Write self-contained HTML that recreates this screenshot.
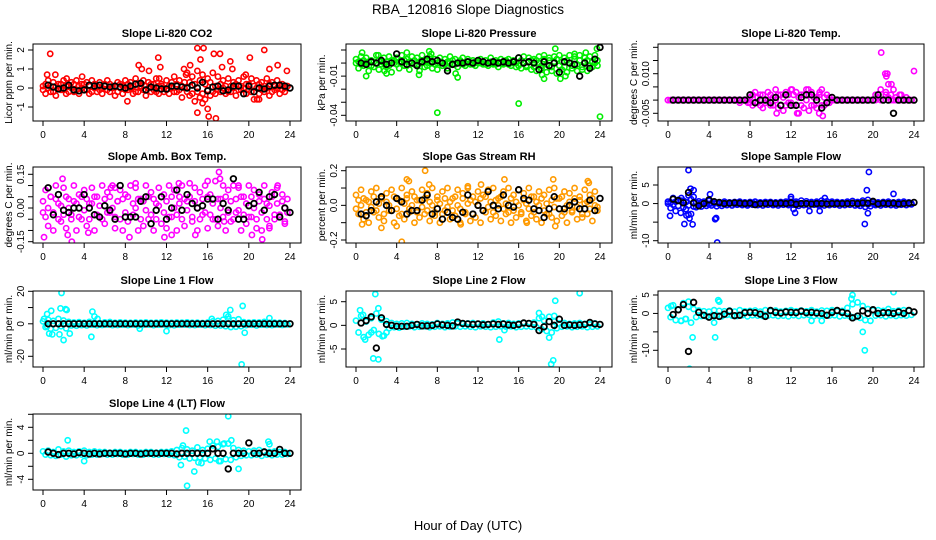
<!DOCTYPE html>
<html><head><meta charset="utf-8"><style>
html,body{margin:0;padding:0;background:#fff;}
svg{display:block;font-family:"Liberation Sans",sans-serif;}
</style></head><body>
<svg id="chart" width="936" height="540" viewBox="0 0 936 540">
<text x="468" y="14" text-anchor="middle" font-size="13.5">RBA_120816  Slope Diagnostics</text>
<text x="468" y="530" text-anchor="middle" font-size="13">Hour of Day (UTC)</text>
</svg>
<script>
const times=[0,0.25,0.5,0.75,1,1.25,1.5,1.75,2,2.25,2.5,2.75,3,3.25,3.5,3.75,4,4.25,4.5,4.75,5,5.25,5.5,5.75,6,6.25,6.5,6.75,7,7.25,7.5,7.75,8,8.25,8.5,8.75,9,9.25,9.5,9.75,10,10.25,10.5,10.75,11,11.25,11.5,11.75,12,12.25,12.5,12.75,13,13.25,13.5,13.75,14,14.25,14.5,14.75,15,15.25,15.5,15.75,16,16.25,16.5,16.75,17,17.25,17.5,17.75,18,18.25,18.5,18.75,19,19.25,19.5,19.75,20,20.25,20.5,20.75,21,21.25,21.5,21.75,22,22.25,22.5,22.75,23,23.25,23.5,23.75];
const meanTimes=[0.5,1,1.5,2,2.5,3,3.5,4,4.5,5,5.5,6,6.5,7,7.5,8,8.5,9,9.5,10,10.5,11,11.5,12,12.5,13,13.5,14,14.5,15,15.5,16,16.5,17,17.5,18,18.5,19,19.5,20,20.5,21,21.5,22,22.5,23,23.5,24];
const xTicks=[0,4,8,12,16,20,24];

// Panel 1: CO2
const p1Vals=[0.1,-0.3,0.4,-0.2,0.3,-0.4,0.2,-0.1,0.4,-0.3,0.1,0.3,-0.2,0.4,-0.3,0.2,-0.1,0.3,-0.3,0.4,0.0,-0.2,0.3,-0.3,0.2,0.4,-0.2,0.1,-0.4,0.3,0.2,-0.3,0.4,-0.1,0.3,-0.3,0.5,-0.2,0.1,0.4,-0.4,0.3,-0.2,0.2,0.5,-0.3,0.1,-0.2,0.4,-0.3,0.3,0.6,-0.2,0.4,-0.5,0.3,0.8,-0.4,0.6,-0.7,0.9,-0.5,0.7,-0.6,0.5,-0.4,0.8,-0.3,0.6,-0.2,0.4,-0.3,0.5,-0.2,0.3,-0.4,0.4,-0.1,0.6,-0.3,0.2,0.5,-0.6,0.4,-0.3,0.3,-0.2,0.5,-0.4,0.3,-0.1,0.4,-0.3,0.2,-0.2,0.1];
const p1Vals2=[-0.1,0.2,0.0,0.1,-0.2,0.1,0.0,0.2,-0.1,0.1,-0.2,0.0,0.2,-0.1,0.1,0.0,0.2,-0.1,0.1,-0.2,0.2,0.1,-0.1,0.0,0.1,-0.1,0.2,0.0,0.1,-0.2,0.0,0.1,-0.1,0.2,0.0,0.1,-0.2,0.2,0.0,-0.1,0.1,0.0,0.2,-0.1,-0.2,0.1,0.2,0.0,-0.1,0.1,0.0,-0.2,0.2,-0.1,0.1,0.0,-0.2,0.3,-0.3,0.2,-0.2,0.4,-0.3,0.2,-0.1,0.3,-0.2,0.1,-0.1,0.2,0.0,0.1,-0.2,0.1,0.0,0.2,-0.1,0.1,0.0,0.2,-0.1,-0.2,0.1,0.0,0.2,-0.1,0.1,0.0,0.2,-0.2,0.1,0.0,0.1,-0.1,0.0,0.1];
const p1OutX=[0.7,0.4,1.2,2.3,3.8,8.2,9.3,9.6,10.3,11.2,11.4,11.3,13.7,13.9,14.3,15.0,15.6,15.3,15.5,15.0,16.0,16.1,16.8,16.6,17.2,17.4,18.2,18.4,19.7,20.1,20.8,21.0,21.5,22.0,22.8,23.7];
const p1OutY=[1.8,0.7,0.7,0.5,0.6,-0.7,1.2,1.0,0.9,1.6,1.1,0.5,1.0,0.7,1.2,2.1,2.1,1.5,-0.8,-1.3,-1.1,-1.5,-1.6,1.8,1.8,1.1,1.4,1.0,0.7,1.6,-0.6,-0.6,2.0,1.0,1.2,0.9];
const p1Means=[0.15,0.05,-0.05,0.0,0.15,-0.1,-0.15,-0.1,0.15,0.1,0.15,0.1,0.05,0.1,0.05,0.0,0.1,0.2,0.25,-0.1,0.05,0.0,-0.05,-0.05,0.1,0.1,0.05,0.0,0.15,0.0,0.3,-0.15,0.05,0.1,-0.15,-0.1,0.1,0.1,-0.3,0.1,-0.2,0.0,-0.05,0.1,0.15,0.15,0.1,0.0];
const p1Ticks=[-1,0,1,2];
const p1Labels=["-1","0","1","2"];

// Panel 2: Pressure
const p2Vals=[0.003,-0.004,0.005,-0.002,0.004,-0.006,0.002,-0.003,0.006,-0.005,0.001,0.004,-0.003,0.005,-0.007,0.002,0.004,-0.004,0.006,-0.002,0.003,-0.005,0.005,-0.001,0.004,-0.006,0.006,-0.003,0.002,0.005,-0.004,0.003,-0.005,0.004,-0.002,0.003,-0.004,0.005,-0.001,0.003,-0.003,0.002,0.004,-0.002,0.003,-0.001,0.002,-0.002,0.001,0.003,-0.001,0.002,-0.002,0.004,-0.001,0.002,-0.003,0.003,-0.001,0.002,0.003,-0.002,0.001,-0.003,0.004,-0.004,0.005,-0.003,0.004,-0.005,0.003,-0.006,0.005,-0.004,0.006,-0.007,0.004,-0.006,0.005,-0.008,0.006,-0.005,0.004,-0.007,0.006,-0.004,0.005,-0.006,0.006,-0.005,0.004,-0.006,0.005,-0.003,0.006,-0.002];
const p2Vals2=[0.0,0.001,-0.001,0.002,0.0,0.001,-0.002,0.001,0.0,0.002,-0.001,0.0,0.001,-0.002,0.002,0.0,-0.001,0.001,0.0,0.002,-0.002,0.001,0.0,0.002,-0.001,0.001,0.0,0.002,-0.002,0.0,0.001,-0.001,0.0,0.001,0.0,-0.001,0.001,0.0,0.002,-0.001,0.0,0.001,-0.001,0.0,0.001,0.0,-0.001,0.001,0.0,0.0,0.001,-0.001,0.0,0.001,0.0,-0.001,0.001,0.0,0.0,0.001,-0.001,0.0,0.002,0.0,-0.002,0.002,0.0,-0.002,0.001,0.002,-0.003,0.002,0.0,-0.002,0.003,-0.001,0.002,-0.003,0.001,0.003,-0.002,0.001,-0.003,0.002,0.0,-0.002,0.003,-0.001,0.002,-0.003,0.001,0.002,-0.002,0.001,0.0,0.002];
const p2OutX=[0.6,1.0,2.2,2.8,3.0,5.0,6.2,7.2,7.4,8.0,9.8,10.0,16.0,18.3,18.5,19.6,20.1,20.6,21.5,22.6,23.7,24.0];
const p2OutY=[0.008,-0.010,0.006,-0.006,-0.008,0.008,-0.009,0.009,0.007,-0.038,-0.008,-0.011,-0.031,-0.009,-0.012,0.011,-0.012,-0.010,0.007,0.008,0.011,-0.041];
const p2Means=[0.0,-0.001,0.001,0.0,0.002,-0.001,0.0,0.007,0.001,-0.001,0.0,-0.002,0.001,0.003,0.001,0.002,0.0,-0.006,-0.001,0.0,0.0,0.001,0.0,0.002,0.001,0.0,0.001,0.0,0.001,0.0,0.001,0.004,0.0,0.001,0.0,-0.005,0.001,-0.002,0.0,-0.007,0.001,0.0,-0.001,-0.010,0.0,-0.004,0.003,0.012];
const p2Ticks=[0.01,0,-0.01,-0.02,-0.03,-0.04];
const p2Labels=["","","-0.01","","","-0.04"];

// Panel 3: Temp
const p3Vals=[0,0,0,0,0,0,0,0,0,0,0,0,0,0,0,0,0,0,0,0,0,0,0,0,0,0,0,0,0,0,0,0,0.001,-0.002,0.003,-0.001,0.002,-0.003,0.0,0.003,-0.002,0.001,0.004,-0.003,0.002,-0.004,0.003,-0.001,0.004,-0.002,0.003,-0.005,0.002,-0.003,0.004,-0.004,0.003,-0.002,0.001,-0.005,0.004,-0.002,0.002,-0.001,0,0,0,0,0,0,0,0,0,0,0,0,0,0,0,0,0,0.002,0.001,0.004,0.0,0.003,0.006,0.002,0.0,0.001,0.0,0.002,0.0,0.001,0.0,0.0];
const p3Vals2=[0,0,0,0,0,0,0,0,0,0,0,0,0,0,0,0,0,0,0,0,0,0,0,0,0,0,0,0,-0.001,0,0,0,-0.001,0.002,-0.001,0.001,-0.002,0.002,-0.001,0.0,0.002,-0.002,0.0,0.002,-0.002,0.001,-0.002,0.002,-0.001,0.002,-0.002,0.001,-0.002,0.002,0.0,0.002,-0.002,0.001,-0.003,0.002,-0.002,0.001,-0.001,0.001,0,0,0,0,0,0,0,0,0,0,0,0,0,0,0,0,0,0,0.001,0,0,0.002,0.001,0,0,0,0,0,0,0,0,0];
const p3OutX=[12.1,13.7,14.8,15.1,12.6,10.6,20.8,21.2,21.4,21.3,21.8,22.0,24.0,22.6,7.8];
const p3OutY=[0.004,0.004,0.003,-0.006,-0.005,-0.005,0.018,0.010,0.010,0.009,0.006,0.004,0.011,0.002,-0.001];
const p3Means=[0,0,0,0,0,0,0,0,0,0,0,0,0,0,0,0.002,-0.001,0,0,-0.001,0.001,-0.002,0.002,-0.002,-0.002,0.001,0.002,0.002,0.0,-0.003,-0.001,0.001,0,0,0,0,0,0,0,0,0.002,0,0,-0.005,0,0,0,0];
const p3Ticks=[0.02,0.015,0.01,0.005,0,-0.005];
const p3Labels=["","","0.010","","","-0.005"];

// Panel 4: Amb box temp
const p4Vals=[-0.02,0.08,-0.08,0.05,-0.1,0.1,0.02,-0.06,0.09,-0.09,0.04,-0.03,0.1,-0.1,0.06,-0.05,0.08,-0.08,0.02,0.09,-0.1,0.05,-0.04,0.1,-0.07,0.07,-0.02,0.1,-0.09,0.03,0.08,-0.1,0.06,-0.06,0.1,-0.03,0.09,-0.1,0.04,-0.08,0.1,-0.05,0.07,-0.1,0.02,0.09,-0.07,0.06,-0.09,0.1,-0.04,0.08,-0.1,0.05,0.1,-0.08,0.03,0.11,-0.06,0.09,-0.1,0.07,-0.03,0.1,-0.09,0.06,-0.05,0.12,-0.08,0.04,0.1,-0.1,0.08,-0.06,0.1,-0.02,0.09,-0.1,0.05,-0.07,0.1,-0.04,0.08,-0.09,0.06,-0.1,0.1,0.02,-0.08,0.07,-0.05,0.09,-0.03,0.06,-0.06,0.04];
const p4Vals2=[0.03,-0.04,0.0,0.05,-0.02,0.04,-0.05,0.01,-0.03,0.05,0.0,-0.05,0.03,0.02,-0.04,0.05,-0.01,0.04,-0.05,0.02,0.05,-0.03,0.01,-0.05,0.04,-0.02,0.05,0.0,-0.04,0.03,-0.05,0.04,-0.02,0.05,-0.04,0.02,0.0,0.04,-0.05,0.03,-0.01,0.05,-0.03,0.04,-0.05,0.01,0.05,-0.02,0.03,-0.04,0.05,0.0,-0.03,0.02,-0.05,0.04,-0.01,0.05,-0.04,0.03,0.0,-0.05,0.04,-0.02,0.05,-0.03,0.02,-0.05,0.04,0.0,-0.04,0.05,-0.02,0.03,-0.05,0.04,-0.01,0.05,-0.03,0.02,-0.04,0.05,0.0,-0.05,0.03,-0.02,0.04,-0.05,0.01,0.05,-0.03,0.02,-0.04,0.03,0.0,-0.02];
const p4OutX=[0.1,1.9,2.8,4.4,6.6,8.4,9.0,11.8,12.5,13.2,14.8,16.0,17.1,17.2,17.6,19.0,20.3,21.3,22.0,22.8,23.5,2.4,7.0];
const p4OutY=[-0.13,0.13,-0.15,-0.11,0.09,-0.13,0.11,-0.13,-0.12,0.11,-0.12,0.12,0.16,0.13,-0.06,0.10,-0.12,-0.14,-0.09,0.10,-0.07,-0.12,0.09];
const p4Means=[0.09,-0.03,0.06,-0.01,-0.02,0.0,0.0,0.06,0.0,-0.03,-0.04,0.01,-0.01,-0.05,0.1,-0.04,-0.04,-0.04,0.03,0.05,-0.07,-0.01,0.05,-0.05,0.0,0.08,-0.01,0.06,0.02,0.0,0.01,0.04,0.04,-0.05,0.02,-0.01,0.13,-0.05,-0.05,0.01,0.02,0.07,-0.01,0.05,0.06,-0.04,0.0,-0.02];
const p4Ticks=[0.15,0.1,0.05,0,-0.05,-0.1,-0.15];
const p4Labels=["0.15","","","0.00","","","-0.15"];

// Panel 5: Gas stream RH
const p5Vals=[0.06,-0.05,0.09,-0.08,0.03,-0.1,0.08,-0.04,0.1,-0.07,0.05,-0.09,0.07,-0.03,0.09,-0.1,0.04,-0.06,0.1,-0.08,0.06,-0.04,0.08,-0.1,0.03,-0.07,0.09,-0.05,0.07,-0.09,0.1,-0.06,0.05,-0.1,0.08,-0.03,0.1,-0.08,0.04,-0.06,0.09,-0.1,0.07,-0.05,0.1,-0.09,0.05,-0.07,0.08,-0.1,0.06,-0.04,0.09,-0.08,0.1,-0.06,0.04,-0.09,0.08,-0.05,0.1,-0.1,0.06,-0.07,0.09,-0.04,0.07,-0.09,0.1,-0.06,0.05,-0.08,0.08,-0.1,0.06,-0.05,0.09,-0.07,0.1,-0.09,0.04,-0.06,0.08,-0.1,0.07,-0.04,0.1,-0.08,0.05,-0.07,0.09,-0.05,0.06,-0.09,0.08,-0.03];
const p5Vals2=[-0.02,0.03,0.0,0.04,-0.04,0.02,-0.01,0.05,-0.03,0.01,0.04,-0.05,0.02,0.0,-0.03,0.05,-0.02,0.03,-0.05,0.01,0.04,-0.02,0.0,0.05,-0.04,0.03,-0.01,0.04,-0.03,0.02,0.0,-0.04,0.03,0.01,-0.05,0.04,-0.01,0.02,-0.03,0.05,0.0,-0.02,0.04,-0.04,0.01,0.03,-0.05,0.02,0.0,0.04,-0.03,0.05,-0.01,0.02,-0.04,0.03,0.0,0.05,-0.02,0.01,-0.04,0.04,-0.03,0.02,0.0,-0.05,0.03,0.01,-0.02,0.05,-0.04,0.02,0.0,0.04,-0.03,0.01,-0.05,0.03,-0.01,0.04,-0.02,0.05,-0.04,0.0,0.02,-0.03,0.04,-0.01,0.03,-0.05,0.01,0.02,-0.02,0.04,0.0,-0.01];
const p5OutX=[0.6,2.5,4.5,5.0,5.2,6.8,7.2,4.0,11.0,12.3,14.6,19.6,19.4,22.8,22.9,10.3,16.8];
const p5OutY=[-0.11,-0.13,-0.21,0.15,0.14,0.2,0.12,-0.12,0.11,0.12,0.15,-0.12,0.15,0.14,0.13,-0.11,-0.1];
const p5Means=[-0.05,-0.06,-0.03,0.02,0.05,0.0,-0.03,0.04,0.02,-0.05,-0.03,-0.03,0.03,0.06,-0.05,-0.02,-0.08,-0.04,-0.07,-0.08,-0.04,0.06,-0.05,0.0,-0.03,0.08,0.0,-0.02,0.06,0.0,-0.01,0.09,0.04,0.03,-0.02,-0.03,-0.07,-0.02,0.05,-0.02,-0.02,0.0,0.02,-0.02,-0.02,0.03,-0.03,0.04];
const p5Ticks=[0.2,0.1,0,-0.1,-0.2];
const p5Labels=["0.2","","0.0","","-0.2"];

// Panel 6: Sample flow
const p6Vals=[0.5,-1.2,1.5,-2.0,1.0,-2.5,0.8,-1.5,2.2,-2.8,1.8,-1.0,0.6,-0.8,0.5,-0.6,0.7,-0.5,0.4,-0.7,0.3,-0.6,0.5,-0.4,0.3,-0.5,0.4,-0.3,0.5,-0.4,0.3,-0.5,0.4,-0.3,0.5,-0.4,0.3,-0.5,0.4,-0.3,0.4,-0.4,0.3,-0.5,0.4,-0.3,0.5,-0.4,1.2,-1.5,0.5,-0.6,0.8,-0.4,0.6,-0.5,0.4,-0.3,0.5,-0.6,0.8,-0.5,0.6,-0.4,0.5,-0.3,0.4,-0.5,0.3,-0.4,0.5,-0.3,0.7,-0.5,0.4,-0.6,0.8,-0.9,1.0,-0.7,0.5,-0.4,0.3,-0.5,0.4,-0.3,0.5,-0.4,0.3,-0.5,0.4,-0.3,0.5,-0.4,0.3,-0.2];
const p6Vals2=[0.0,0.3,-0.3,0.5,-0.6,0.8,-1.0,0.4,-0.5,1.2,-0.8,0.3,-0.2,0.2,-0.1,0.1,-0.2,0.1,0.0,0.2,-0.1,0.1,-0.2,0.1,0.0,0.1,-0.1,0.2,-0.1,0.0,0.1,-0.1,0.0,0.2,-0.2,0.1,0.0,0.1,-0.1,0.2,0.0,-0.1,0.1,0.0,-0.1,0.2,0.0,-0.1,0.2,-0.3,0.1,0.0,-0.2,0.1,0.0,0.2,-0.1,0.1,0.0,-0.2,0.1,0.2,-0.1,0.0,0.1,-0.1,0.2,0.0,-0.1,0.1,0.0,-0.2,0.1,0.2,-0.3,0.2,-0.1,0.3,-0.2,0.1,0.0,-0.1,0.2,0.0,-0.1,0.1,0.0,0.1,-0.1,0.0,0.2,-0.1,0.0,0.1,-0.1,0.0];
const p6OutX=[0.2,1.6,1.8,2.0,2.1,2.2,2.4,4.8,4.6,4.7,2.0,12.0,12.4,13.8,14.8,15.3,19.2,19.4,19.5,19.6,22.0,1.3,2.5,4.1,0.5];
const p6OutY=[-3.3,-5.5,-3.2,9.0,-4.0,4.0,-5.6,-10.5,-4.2,-3.9,-3.0,1.8,-2.5,-2.0,-2.0,1.5,-5.5,3.6,-2.6,8.5,2.6,1.5,3.6,2.5,1.4];
const p6Means=[1.2,0.8,0.2,3.0,0.2,-0.6,0.0,1.0,0.5,0.3,0.0,0.1,0.2,0.1,0.0,0.1,-0.3,0.0,0.0,0.1,0.0,0.1,0.0,0.2,-0.2,0.0,0.0,-0.1,0.0,0.0,-0.1,0.0,0.0,0.0,0.0,0.1,0.0,0.2,0.1,0.6,-0.1,0.1,0.0,0.1,-0.1,0.0,0.1,0.3];
const p6Ticks=[5,0,-5,-10];
const p6Labels=["5","0","","-10"];

// Panel 7: Line 1 flow
const p7Vals=[1.5,-2.0,2.5,-3.0,1.8,-2.5,3.0,-1.5,2.0,-2.8,1.2,-1.0,0.8,-1.2,1.0,-0.8,0.6,-1.0,1.2,-0.6,0.8,-0.9,0.5,-0.7,0.9,-0.5,1.1,-0.8,0.6,-0.7,0.9,-0.6,0.7,-0.8,0.6,-0.5,0.8,-1.0,0.7,-0.6,0.9,-0.5,0.6,-0.8,0.7,-0.6,0.9,-0.5,0.7,-0.8,0.6,-0.9,0.8,-0.6,0.7,-0.5,0.9,-0.7,0.6,-0.8,0.7,-0.6,0.5,-0.9,0.8,-0.7,1.5,-1.2,1.8,-1.0,2.5,-1.5,3.0,-2.0,2.2,-1.8,2.8,-1.5,1.0,-0.8,0.7,-0.6,0.9,-1.0,0.8,-0.6,1.2,-0.7,0.6,-0.8,0.7,-0.5,0.6,-0.7,0.5,-0.4];
const p7OutX=[0.1,0.4,0.6,0.8,0.4,1.7,1.8,2.0,2.2,2.3,1.6,2.6,4.7,4.8,5.0,5.3,9.4,12.0,16.4,17.8,18.0,18.2,19.3,19.4,19.6,22.0,0.9];
const p7OutY=[3.0,6.0,-6.0,8.0,-1.5,9.5,19.0,-10.0,9.0,8.5,-6.5,-6.0,-8.0,7.5,4.5,3.0,-3.0,-4.5,3.0,5.5,4.5,8.5,-25.0,11.0,-5.5,3.5,-6.5];
const p7Means=[0,0,0,0,0,0,0,0,0,0,0,0,0,0,0,0,0,0,0,0,0,0,0,0,0,0,0,0,0,0,0,0,0,0,0,0,0,0,0,0,0,0,0,0,0,0,0,0];
const p7Ticks=[20,10,0,-10,-20];
const p7Labels=["20","","0","","-20"];

// Panel 8: Line 2 flow
const p8Vals=[1.0,-1.5,2.0,-2.5,0.8,-2.0,1.5,-1.0,2.5,-1.8,1.2,-2.2,0.9,-0.6,0.5,-0.4,0.3,-0.5,0.4,-0.3,0.5,-0.2,0.3,-0.4,0.2,-0.3,0.4,-0.2,0.3,-0.4,0.2,-0.3,0.5,-0.2,0.3,-0.4,0.4,-0.3,0.6,-0.2,0.4,-0.3,0.3,-0.2,0.4,-0.3,0.5,-0.4,0.3,-0.2,0.4,-0.3,0.2,-0.4,0.6,-0.3,0.8,-0.2,0.4,-0.3,0.5,-0.2,0.3,-0.4,0.4,-0.3,0.5,-0.2,0.4,-0.3,0.6,-0.4,1.5,-0.8,1.0,-1.2,1.8,-1.5,0.8,-0.6,0.4,-0.3,0.5,-0.2,0.3,-0.4,0.4,-0.3,0.5,-0.2,0.3,-0.4,0.2,-0.3,0.4,-0.2];
const p8OutX=[1.9,22.0,19.6,2.2,0.4,0.7,1.7,2.2,19.2,19.4,0.9,14.1,14.6,19.0,18.0,18.3,2.6,3.0,19.5,1.5];
const p8OutY=[6.6,6.8,5.2,3.6,3.2,2.2,-7.0,-7.2,-8.2,-7.4,-3.0,-3.0,-1.0,-2.6,2.6,1.8,-2.3,-1.5,2.0,-1.5];
const p8Means=[0.5,1.0,1.8,-4.8,1.6,0.2,0.0,-0.2,-0.2,-0.2,0.0,0.2,-0.1,-0.1,0.0,0.3,0.1,0.0,-0.1,0.7,0.4,0.3,0.2,0.3,0.1,0.2,0.3,0.2,0.3,0.1,0.0,0.2,0.5,0.4,0.2,-1.1,-0.3,0.8,0.0,1.3,0.0,0.1,0.0,0.1,0.2,0.6,0.3,0.2];
const p8Ticks=[5,0,-5];
const p8Labels=["5","0","-5"];

// Panel 9: Line 3 flow
const p9Vals=[1.5,-1.0,2.2,-1.8,1.0,-2.0,2.8,-1.5,1.8,-2.5,1.2,-1.0,0.8,-0.7,0.6,-0.8,0.5,-0.6,0.9,-0.5,0.7,-0.8,0.6,-0.4,0.8,-0.6,0.5,-0.7,0.9,-0.5,0.6,-0.8,0.7,-0.5,0.8,-0.6,0.5,-0.7,0.9,-0.6,0.6,-0.5,0.8,-0.7,0.5,-0.6,0.7,-0.8,0.9,-0.5,0.6,-0.7,0.8,-0.5,0.6,-0.4,0.9,-0.7,0.5,-0.6,0.8,-0.5,0.7,-0.6,0.9,-0.5,0.6,-0.8,0.7,-0.6,1.5,-0.8,2.5,-1.0,3.0,-1.2,2.0,-1.8,1.2,-2.0,0.8,-0.6,0.9,-0.5,0.7,-0.8,1.2,-0.5,0.6,-0.7,0.8,-0.5,0.9,-0.6,0.7,-0.4];
const p9OutX=[2.1,2.4,4.6,19.2,19.0,22.0,18.0,4.9,5.0,17.9,4.5,1.3,14.0,15.0,0.3,2.0,1.7];
const p9OutY=[-15.0,-6.5,-6.5,-10.0,-5.0,5.8,5.0,3.6,3.2,4.0,-2.5,-2.0,-2.0,-2.0,2.0,3.2,-1.5];
const p9Means=[-0.3,1.0,2.4,-10.3,3.0,0.3,-0.5,-1.0,-0.6,-0.8,-0.2,0.6,-0.6,-0.5,0.2,0.3,0.2,-0.2,-0.8,0.8,0.3,0.1,0.4,0.3,0.2,0.6,0.2,0.3,0.1,0.0,-0.5,0.3,0.8,0.3,0.0,-1.2,-0.7,0.7,0.0,1.0,0.0,0.2,0.2,0.0,0.4,0.0,0.8,0.4];
const p9Ticks=[5,0,-5,-10];
const p9Labels=["5","0","","-10"];

// Panel 10: Line 4 (LT) flow
const p10Vals=[0.3,-0.2,0.4,-0.3,0.2,-0.4,0.6,-0.2,0.3,-0.5,0.4,-0.3,0.2,-0.3,0.3,-0.2,0.4,-0.3,0.2,-0.2,0.3,-0.2,0.2,-0.1,0.2,-0.2,0.1,-0.2,0.2,-0.1,0.2,-0.2,0.1,-0.2,0.2,-0.1,0.2,-0.2,0.1,-0.2,0.2,-0.1,0.2,-0.2,0.1,-0.2,0.2,-0.1,0.2,-0.2,0.3,-0.3,0.5,-0.6,0.8,-0.5,0.6,-0.8,0.4,-0.7,0.9,-0.6,0.5,-0.8,0.7,-1.0,1.2,-0.8,1.0,-1.2,1.4,-0.9,1.5,-1.0,0.8,-0.6,0.5,-0.4,0.4,-0.3,0.3,-0.3,0.4,-0.2,0.5,-0.4,0.3,-0.2,0.2,-0.3,0.3,-0.2,0.2,-0.2,0.2,-0.1];
const p10OutX=[18.0,13.9,14.0,13.4,14.7,19.0,2.4,4.0,13.6,16.2,16.9,18.3,21.9,17.1,15.4,15.1,17.6,22.0];
const p10OutY=[5.7,3.5,-5.0,-1.8,-2.8,-2.4,2.0,-1.2,1.2,1.8,1.8,2.0,1.8,-1.2,-1.5,-1.4,1.5,1.4];
const p10Means=[0.2,0.0,-0.2,0.0,0.0,-0.1,0.1,0.0,-0.1,0.0,-0.1,0.0,0.0,0.0,0.0,-0.1,0.0,0.0,-0.1,0.0,0.0,0.0,0.0,0.0,0.0,-0.1,0.0,0.0,0.0,0.0,0.0,0.0,0.7,0.0,0.0,-2.4,0.0,0.0,0.0,1.6,0.0,0.0,0.2,0.0,0.0,0.6,0.0,0.0];
const p10Ticks=[6,4,2,0,-2,-4];
const p10Labels=["","4","","0","","-4"];

const NS="http://www.w3.org/2000/svg";
const svg=document.getElementById('chart');
function mk(tag,attrs,parent){const e=document.createElementNS(NS,tag);for(const k in attrs)e.setAttribute(k,attrs[k]);(parent||svg).appendChild(e);return e;}

const panels=[
 {key:'co2',title:'Slope Li-820 CO2',yt:'Licor ppm per min.',box:[33,44,301,121],xp:[43,290],ya:[2,50],yb:[-1,107],ticks:p1Ticks,labels:p1Labels,color:'#ff0000',vals:[p1Vals,p1Vals2],ox:p1OutX,oy:p1OutY,means:p1Means},
 {key:'pressure',title:'Slope Li-820 Pressure',yt:'kPa per min.',box:[346,44,612,121],xp:[356,600],ya:[0.01,50],yb:[-0.04,115.3],ticks:p2Ticks,labels:p2Labels,color:'#00ee00',vals:[p2Vals,p2Vals2],ox:p2OutX,oy:p2OutY,means:p2Means},
 {key:'temp',title:'Slope Li-820 Temp.',yt:'degrees C per min.',box:[658,44,924,121],xp:[668,914],ya:[0.02,47.3],yb:[-0.005,113.3],ticks:p3Ticks,labels:p3Labels,color:'#ff00ff',vals:[p3Vals,p3Vals2],ox:p3OutX,oy:p3OutY,means:p3Means},
 {key:'amb-box-temp',title:'Slope Amb. Box Temp.',yt:'degrees C per min.',box:[33,167,301,243],xp:[43,290],ya:[0.15,174.3],yb:[-0.15,241.7],ticks:p4Ticks,labels:p4Labels,color:'#ff00ff',vals:[p4Vals,p4Vals2],ox:p4OutX,oy:p4OutY,means:p4Means},
 {key:'gas-stream-rh',title:'Slope Gas Stream RH',yt:'percent per min.',box:[346,167,612,243],xp:[356,600],ya:[0.2,170.7],yb:[-0.2,240],ticks:p5Ticks,labels:p5Labels,color:'#ff9a00',vals:[p5Vals,p5Vals2],ox:p5OutX,oy:p5OutY,means:p5Means},
 {key:'sample-flow',title:'Slope Sample Flow',yt:'ml/min per min.',box:[658,167,924,243],xp:[668,914],ya:[5,185],yb:[-10,240.7],ticks:p6Ticks,labels:p6Labels,color:'#0000ff',vals:[p6Vals,p6Vals2],ox:p6OutX,oy:p6OutY,means:p6Means},
 {key:'line1-flow',title:'Slope Line 1 Flow',yt:'ml/min per min.',box:[33,291,301,367],xp:[43,290],ya:[20,291.3],yb:[-20,356.3],ticks:p7Ticks,labels:p7Labels,color:'#00ffff',vals:[p7Vals],ox:p7OutX,oy:p7OutY,means:p7Means},
 {key:'line2-flow',title:'Slope Line 2 Flow',yt:'ml/min per min.',box:[346,291,612,367],xp:[356,600],ya:[5,301.7],yb:[-5,349],ticks:p8Ticks,labels:p8Labels,color:'#00ffff',vals:[p8Vals],ox:p8OutX,oy:p8OutY,means:p8Means},
 {key:'line3-flow',title:'Slope Line 3 Flow',yt:'ml/min per min.',box:[658,291,924,367],xp:[668,914],ya:[5,295],yb:[-10,350.3],ticks:p9Ticks,labels:p9Labels,color:'#00ffff',vals:[p9Vals],ox:p9OutX,oy:p9OutY,means:p9Means},
 {key:'line4-flow',title:'Slope Line 4 (LT) Flow',yt:'ml/min per min.',box:[33,414,301,490],xp:[43,290],ya:[4,427.3],yb:[-4,479.3],ticks:p10Ticks,labels:p10Labels,color:'#00ffff',vals:[p10Vals],ox:p10OutX,oy:p10OutY,means:p10Means}
];

panels.forEach(p=>{
  const [L,T,R,B]=p.box;
  const g=mk('g',{});
  
  
  const xs=t=>p.xp[0]+t*(p.xp[1]-p.xp[0])/24;
  const ys=v=>p.ya[1]+(v-p.ya[0])*(p.yb[1]-p.ya[1])/(p.yb[0]-p.ya[0]);
  const clip='clip-'+p.key;
  const cp=mk('clipPath',{id:clip},g);mk('rect',{x:L,y:T,width:R-L,height:B-T},cp);
  const pts=mk('g',{'clip-path':'url(#'+clip+')'},g);
  
  
  p.vals.forEach(arr=>{
    const n=Math.min(arr.length,times.length);
    for(let i=0;i<n;i++){
      const c=mk('circle',{cx:xs(times[i]),cy:ys(arr[i]),r:2.6,fill:'none',stroke:p.color,'stroke-width':1.6},pts);
      
      
    }
  });
  for(let i=0;i<Math.min(p.ox.length,p.oy.length);i++){
    const c=mk('circle',{cx:xs(p.ox[i]),cy:ys(p.oy[i]),r:2.6,fill:'none',stroke:p.color,'stroke-width':1.6},pts);
    
    
  }
  for(let i=0;i<Math.min(p.means.length,meanTimes.length);i++){
    const c=mk('circle',{cx:xs(meanTimes[i]),cy:ys(p.means[i]),r:2.8,fill:'none',stroke:'#000','stroke-width':1.8},pts);
    
    
  }
  const box=mk('rect',{x:L,y:T,width:R-L,height:B-T,fill:'none',stroke:'#000','stroke-width':1},g);
  
  
  const ttl=mk('text',{x:(L+R)/2,y:T-7,'text-anchor':'middle','font-size':11,'font-weight':'bold'},g);
  ttl.textContent=p.title;
  
  
  xTicks.forEach(t=>{
    const x=xs(t);
    mk('line',{x1:x,y1:B,x2:x,y2:B+5,stroke:'#000','stroke-width':1},g);
    const tl=mk('text',{x:x,y:B+17,'text-anchor':'middle','font-size':10},g);
    tl.textContent=String(t);
    
    
  });
  p.ticks.forEach((v,i)=>{
    const y=ys(v);
    if(y<T-1||y>B+1)return;
    mk('line',{x1:L-5,y1:y,x2:L,y2:y,stroke:'#000','stroke-width':1},g);
    if(p.labels[i]){
      const tl=mk('text',{x:L-9,y:y,'text-anchor':'middle','font-size':10,transform:'rotate(-90 '+(L-9)+' '+y+')'},g);
      tl.textContent=p.labels[i];
      
      
    }
  });
  const cy=(T+B)/2;
  const yt=mk('text',{x:L-21,y:cy,'text-anchor':'middle','font-size':10,transform:'rotate(-90 '+(L-21)+' '+cy+')'},g);
  yt.textContent=p.yt;
  
  
});
</script>
</body></html>
